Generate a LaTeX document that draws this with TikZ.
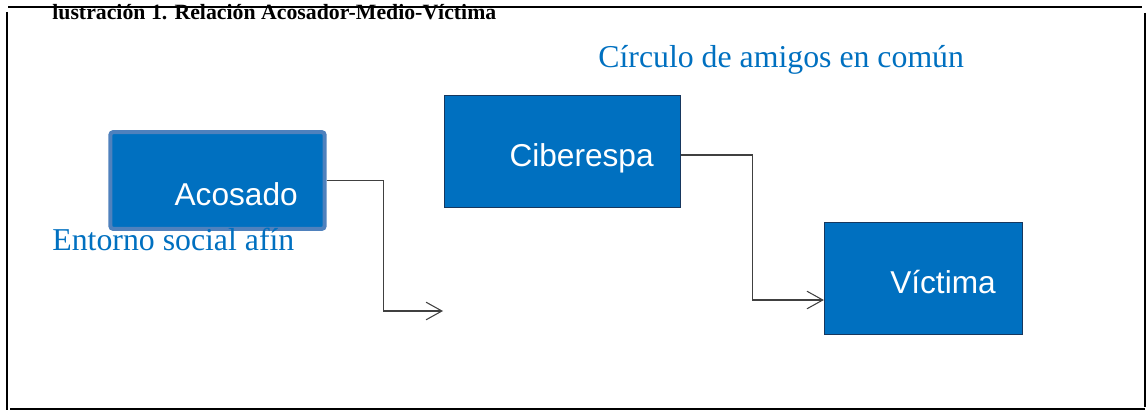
\documentclass[tikz,border=0pt]{standalone}
\usepackage{fontspec}
\setmainfont{Liberation Serif}
\setsansfont{Liberation Sans}
\usetikzlibrary{calc,arrows.meta}
\definecolor{medioblue}{HTML}{0070C0}
\definecolor{rimblue}{HTML}{4F81BD}
\definecolor{edgenavy}{HTML}{17375E}
\definecolor{linkgray}{HTML}{404040}
\tikzset{
	actor/.style={draw=edgenavy, line width=0.6pt, fill=medioblue, text=white,
		font=\fontsize{18pt}{20pt}\selectfont\sffamily, align=right,
		inner xsep=15.3pt, inner ysep=0pt, minimum height=64.1pt,
		text depth=0pt, text height=17.6pt},
	link/.style={draw=linkgray, line width=0.6pt, -{Straight Barb[length=9pt,width=10pt]}},
	zone/.style={text=medioblue, font=\fontsize{18.1pt}{20pt}\selectfont, anchor=base west, inner sep=0pt},
	frame/.style={line width=1.1pt}
}
\begin{document}
\begin{tikzpicture}[x=0.02cm,y=-0.02cm]
	\useasboundingbox (0,0) rectangle (1148,412);
	%frame
	\draw[frame] (8,7)--(1142,7);
	\draw[frame] (7,12)--(7,410);
	\draw[frame] (1145,13)--(1145,407);
	\draw[frame] (10,409)--(1145,409);
	
	%title
	\node[anchor=base west, inner sep=0pt, font=\fontsize{12.4pt}{13pt}\selectfont\bfseries] (titulo) at (52,20) {lustración 1. Relación Acosador-Medio-Víctima};
	
	%boxes
	\node[actor, draw=rimblue, line width=2.3pt, rounded corners=1.5pt, text width=91.3pt, minimum height=55pt, text height=29pt] (acosado) at (217.5,180.5) {Acosado};
	\node[actor, text width=103.8pt] (ciber)   at (562.5,151.5) {Ciberespa};
	\node[actor, text width=82.2pt]  (victima) at (923.5,278.5) {Víctima};
	
	%zone labels
	\node[zone] (circulo) at (598,68)  {Círculo de amigos en común};
	\node[zone] (entorno) at (52,250)  {Entorno social afín};
	
	%connectors
	\coordinate (medio) at (443,311);
	\draw[link] (acosado.east) -- ++(57,0) |- (medio);
	\draw[link] ([yshift=-2pt]ciber.east) -- ++(71,0) |- ($(victima.west)+(0,21.5)$);
	
	%\draw[help lines,step=50] (0,0) grid (1148,412);
\end{tikzpicture}
\end{document}
